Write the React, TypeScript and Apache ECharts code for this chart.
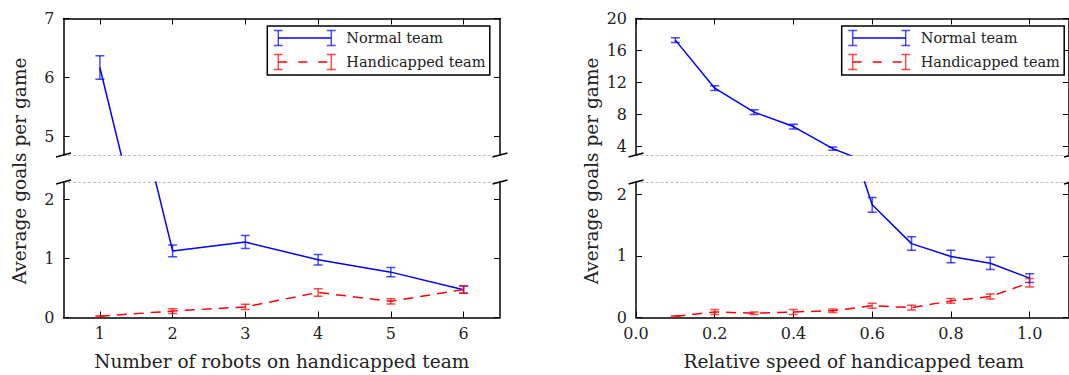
import React, { useEffect, useRef } from "react";
import * as echarts from "echarts";

// ---------- data ----------
const robotCounts = [1, 2, 3, 4, 5, 6];
const robotNormal = [6.17, 1.13, 1.28, 0.98, 0.77, 0.47];
const robotNormalErr = [0.2, 0.1, 0.11, 0.09, 0.08, 0.06];
const robotHandi = [0.02, 0.11, 0.18, 0.425, 0.275, 0.475];
const robotHandiErr = [0.01, 0.04, 0.045, 0.065, 0.045, 0.065];

const speeds = [0.1, 0.2, 0.3, 0.4, 0.5, 0.6, 0.7, 0.8, 0.9, 1.0];
const speedNormal = [17.3, 11.3, 8.3, 6.5, 3.75, 1.83, 1.2, 0.99, 0.88, 0.64];
const speedNormalErr = [0.3, 0.3, 0.3, 0.3, 0.2, 0.12, 0.11, 0.1, 0.1, 0.07];
const speedHandi = [0.02, 0.09, 0.07, 0.09, 0.11, 0.19, 0.16, 0.27, 0.34, 0.565];
const speedHandiErr = [0.01, 0.04, 0.02, 0.04, 0.03, 0.04, 0.04, 0.04, 0.04, 0.07];

const robotTicks = [1, 2, 3, 4, 5, 6];
const speedTicks = [0, 0.2, 0.4, 0.6, 0.8, 1.0];
const leftTopTicks = [5, 6, 7];
const leftBottomTicks = [0, 1, 2];
const rightTopTicks = [4, 8, 12, 16, 20];
const rightBottomTicks = [0, 1, 2];

const legendNames = ["Normal team", "Handicapped team"];
const xTitles = ["Number of robots on handicapped team", "Relative speed of handicapped team"];
const yTitle = "Average goals per game";

// ---------- styling / layout ----------
const FONT = "DejaVu Serif";
const TICK_SIZE = 16;
const TITLE_SIZE = 18.5;
const LEGEND_SIZE = 14.5;
const TEXT = "#222";
const BLUE = "#0000ff";
const RED = "#ff0000";
const BLUE_ERR = "rgba(0,0,255,0.7)";
const RED_ERR = "rgba(255,0,0,0.7)";
const DASH = [10, 7];
const TOP_Y0 = 18.5;
const TOP_Y1 = 155;
const BOT_Y0 = 182;
const BOT_Y1 = 317.5;

const panels = [
  {
    left: 63.5, right: 500, xMin: 0.5, xMax: 6.5, xTicks: robotTicks,
    fmt: (v: number) => String(v),
    topRange: [4.69, 7], topTicks: leftTopTicks,
    botRange: [0, 2.3], botTicks: leftBottomTicks,
    xs: robotCounts, normal: robotNormal, normalErr: robotNormalErr,
    handi: robotHandi, handiErr: robotHandiErr,
    legendX: 267.3, yTitleX: 19, xTitle: xTitles[0],
  },
  {
    left: 636, right: 1071.6, xMin: 0, xMax: 1.1, xTicks: speedTicks,
    fmt: (v: number) => v.toFixed(1),
    topRange: [2.95, 20], topTicks: rightTopTicks,
    botRange: [0, 2.2], botTicks: rightBottomTicks,
    xs: speeds, normal: speedNormal, normalErr: speedNormalErr,
    handi: speedHandi, handiErr: speedHandiErr,
    legendX: 841.7, yTitleX: 591, xTitle: xTitles[1],
  },
];

function axisCommon(gridIndex: number, min: number, max: number, ticks: number[],
  solid: boolean, showTicks: boolean, showLabels: boolean, fmt: (v: number) => string, margin: number) {
  return {
    type: "value",
    gridIndex,
    min,
    max,
    axisLine: {
      show: true,
      onZero: false,
      lineStyle: solid
        ? { color: "#000", width: 1.5 }
        : { color: "#bbbbbb", width: 1, type: [2, 3] },
    },
    axisTick: {
      show: showTicks,
      inside: true,
      length: 6,
      customValues: ticks,
      lineStyle: { color: "#000", width: 1 },
    },
    axisLabel: {
      show: showLabels,
      customValues: ticks,
      margin,
      formatter: (v: number) => fmt(v),
      fontFamily: FONT,
      fontSize: TICK_SIZE,
      color: TEXT,
    },
    splitLine: { show: false },
  };
}

function errorSeries(xAxisIndex: number, yAxisIndex: number, xs: number[], ys: number[], errs: number[],
  range: number[], color: string) {
  const data = xs
    .map((x, i) => [x, ys[i], errs[i]])
    .filter((d) => d[1] >= range[0] && d[1] <= range[1]);
  return {
    type: "custom",
    xAxisIndex,
    yAxisIndex,
    clip: true,
    silent: true,
    z: 4,
    encode: { x: 0, y: 1 },
    data,
    renderItem: (params: any, api: any) => {
      const x = api.value(0);
      const y = api.value(1);
      const e = api.value(2);
      const lo = api.coord([x, y - e]);
      const hi = api.coord([x, y + e]);
      const hw = 4.5;
      const style = { stroke: color, lineWidth: 1.5 };
      return {
        type: "group",
        children: [
          { type: "line", shape: { x1: lo[0], y1: lo[1], x2: hi[0], y2: hi[1] }, style },
          { type: "line", shape: { x1: lo[0] - hw, y1: lo[1], x2: lo[0] + hw, y2: lo[1] }, style },
          { type: "line", shape: { x1: hi[0] - hw, y1: hi[1], x2: hi[0] + hw, y2: hi[1] }, style },
        ],
      };
    },
  };
}

function lineSeries(xAxisIndex: number, yAxisIndex: number, xs: number[], ys: number[], color: string, dashed: boolean) {
  return {
    type: "line",
    xAxisIndex,
    yAxisIndex,
    data: xs.map((x, i) => [x, ys[i]]),
    symbol: "none",
    showSymbol: false,
    clip: true,
    silent: true,
    z: 3,
    lineStyle: { color, width: 1.5, type: dashed ? DASH : "solid" },
  };
}

function textStyle(text: string, size: number, align: string) {
  return {
    text,
    font: `${size}px ${FONT}`,
    fontFamily: FONT,
    fontSize: size,
    fill: TEXT,
    align,
    verticalAlign: "middle",
    textAlign: align,
    textVerticalAlign: "middle",
  };
}

function buildOption() {
  const grid: any[] = [];
  const xAxis: any[] = [];
  const yAxis: any[] = [];
  const series: any[] = [];
  const graphic: any[] = [];

  panels.forEach((p, pi) => {
    [0, 1].forEach((part) => {
      const isTop = part === 0;
      const g = pi * 2 + part;
      const y0 = isTop ? TOP_Y0 : BOT_Y0;
      const y1 = isTop ? TOP_Y1 : BOT_Y1;
      grid.push({ left: p.left, top: y0, width: p.right - p.left, height: y1 - y0, containLabel: false });
      const range = isTop ? p.topRange : p.botRange;
      const yt = isTop ? p.topTicks : p.botTicks;
      xAxis.push({
        ...axisCommon(g, p.xMin, p.xMax, p.xTicks, !isTop, !isTop, !isTop, p.fmt, 8),
        position: "bottom",
      });
      xAxis.push({
        ...axisCommon(g, p.xMin, p.xMax, p.xTicks, isTop, isTop, false, p.fmt, 8),
        position: "top",
      });
      yAxis.push({
        ...axisCommon(g, range[0], range[1], yt, true, true, true, (v) => String(v), 9),
        position: "left",
      });
      yAxis.push({
        ...axisCommon(g, range[0], range[1], yt, true, true, false, (v) => String(v), 9),
        position: "right",
      });
      const xi = g * 2;
      const yi = g * 2;
      series.push(lineSeries(xi, yi, p.xs, p.normal, BLUE, false));
      series.push(lineSeries(xi, yi, p.xs, p.handi, RED, true));
      series.push(errorSeries(xi, yi, p.xs, p.normal, p.normalErr, range, BLUE_ERR));
      series.push(errorSeries(xi, yi, p.xs, p.handi, p.handiErr, range, RED_ERR));
    });

    [p.left, p.right].forEach((cx) => {
      [TOP_Y1, BOT_Y0].forEach((cy) => {
        graphic.push({
          type: "line",
          silent: true,
          z: 10,
          shape: { x1: cx - 7.5, y1: cy + 2, x2: cx + 7.5, y2: cy - 2 },
          style: { stroke: "#000", lineWidth: 1.5 },
        });
      });
    });

    const bx = p.legendX;
    const by = 26;
    graphic.push({
      type: "rect",
      z: 20,
      shape: { x: bx, y: by, width: 222.5, height: 49 },
      style: { fill: "#fff", stroke: "#000", lineWidth: 1.5 },
    });
    const rows = [
      { y: by + 12, color: BLUE, err: BLUE_ERR, dashed: false, name: legendNames[0] },
      { y: by + 36, color: RED, err: RED_ERR, dashed: true, name: legendNames[1] },
    ];
    rows.forEach((r) => {
      const xa = bx + 11;
      const xb = bx + 64;
      graphic.push({
        type: "line",
        z: 21,
        shape: { x1: xa, y1: r.y, x2: xb, y2: r.y },
        style: { stroke: r.color, lineWidth: 1.5, lineDash: r.dashed ? [9, 11] : null },
      });
      [xa, xb].forEach((ex) => {
        const st = { stroke: r.err, lineWidth: 1.5 };
        graphic.push({ type: "line", z: 22, shape: { x1: ex, y1: r.y - 7.5, x2: ex, y2: r.y + 7.5 }, style: st });
        graphic.push({ type: "line", z: 22, shape: { x1: ex - 4.5, y1: r.y - 7.5, x2: ex + 4.5, y2: r.y - 7.5 }, style: st });
        graphic.push({ type: "line", z: 22, shape: { x1: ex - 4.5, y1: r.y + 7.5, x2: ex + 4.5, y2: r.y + 7.5 }, style: st });
      });
      graphic.push({
        type: "text",
        z: 22,
        x: bx + 79,
        y: r.y,
        style: textStyle(r.name, LEGEND_SIZE, "left"),
      });
    });

    graphic.push({
      type: "text",
      x: (p.left + p.right) / 2,
      y: 361,
      style: textStyle(p.xTitle, TITLE_SIZE, "center"),
    });
    graphic.push({
      type: "text",
      x: p.yTitleX,
      y: 171,
      rotation: Math.PI / 2,
      style: textStyle(yTitle, TITLE_SIZE, "center"),
    });
  });

  return {
    animation: false,
    backgroundColor: "#fff",
    textStyle: { fontFamily: FONT },
    grid,
    xAxis,
    yAxis,
    series,
    graphic,
  };
}

export default function App() {
  const ref = useRef<HTMLDivElement>(null);
  useEffect(() => {
    if (!ref.current) return;
    const chart = echarts.init(ref.current, null, { renderer: "svg" });
    chart.setOption(buildOption() as any);
    return () => chart.dispose();
  }, []);
  return (
    <div
      ref={ref}
      style={{ position: "absolute", left: 0, top: 0, width: 1069, height: 375, background: "#fff" }}
    />
  );
}
